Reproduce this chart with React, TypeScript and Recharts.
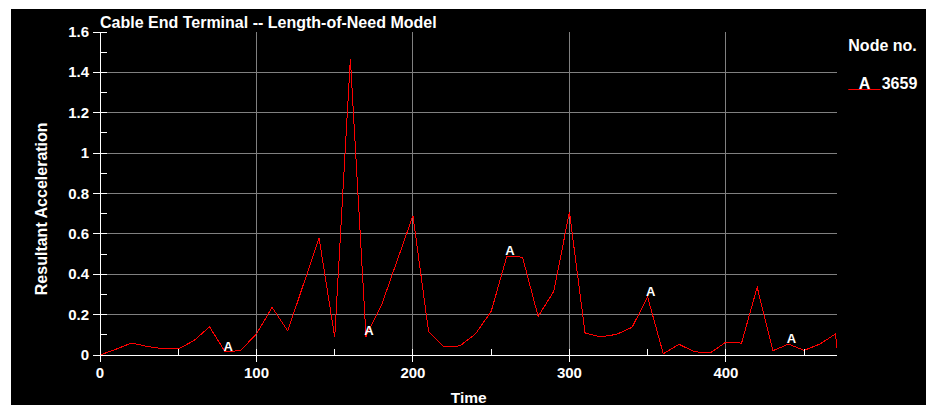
import React from 'react';
import { LineChart, Line, XAxis, YAxis, CartesianGrid } from 'recharts';

const times = [0, 10, 20, 30, 40, 50, 60, 70, 80, 90, 100, 110, 120, 130, 140, 150, 160, 170, 180, 190, 200, 210, 220, 230, 240, 250, 260, 270, 280, 290, 300, 310, 320, 330, 340, 350, 360, 370, 380, 390, 400, 410, 420, 430, 440, 450, 460, 470, 471];
const accel = [0, 0.028, 0.059, 0.043, 0.031, 0.03, 0.071, 0.14, 0.015, 0.023, 0.105, 0.236, 0.119, 0.35, 0.579, 0.089, 1.467, 0.092, 0.249, 0.47, 0.69, 0.115, 0.04, 0.045, 0.105, 0.216, 0.488, 0.485, 0.191, 0.315, 0.708, 0.109, 0.09, 0.102, 0.137, 0.287, 0.006, 0.053, 0.016, 0.01, 0.064, 0.059, 0.336, 0.021, 0.054, 0.023, 0.054, 0.104, 0.035];
const markerTimes = [80, 170, 260, 350, 440];
const xTicks = [0, 50, 100, 150, 200, 250, 300, 350, 400, 450];
const xMajor = [100, 200, 300, 400];
const yTicks = [0, 0.1, 0.2, 0.3, 0.4, 0.5, 0.6, 0.7, 0.8, 0.9, 1, 1.1, 1.2, 1.3, 1.4, 1.5, 1.6];
const yGrid = [0.2, 0.4, 0.6, 0.8, 1, 1.2, 1.4];
const chartTitle = 'Cable End Terminal -- Length-of-Need Model';
const xTitle = 'Time';
const yTitle = 'Resultant Acceleration';
const legendTitle = 'Node no.';
const seriesMarker = 'A';
const seriesName = '3659';

const data = times.map((t, i) => ({ time: t, acc: accel[i] }));

const FONT = '"Liberation Sans", Arial, sans-serif';
const WHITE = '#ffffff';

const BottomTick = (props: any) => {
  const { x, y, payload } = props;
  const v = payload.value;
  const major = v % 100 === 0;
  return (
    <g>
      <line x1={x} x2={x} y1={y - 6} y2={major ? y + 7 : y} stroke={WHITE} />
      {major && (
        <text x={x} y={y + 23} textAnchor="middle" fill={WHITE} fontSize={15} fontWeight="bold" fontFamily={FONT}>
          {v}
        </text>
      )}
    </g>
  );
};

const LeftTick = (props: any) => {
  const { x, y, payload } = props;
  const v = payload.value;
  const major = Math.round(v * 10) % 2 === 0;
  return (
    <g>
      <line x1={major ? x - 7 : x} x2={x + 7} y1={y} y2={y} stroke={WHITE} />
      {major && (
        <text x={x - 11} y={y + 5} textAnchor="end" fill={WHITE} fontSize={15} fontWeight="bold" fontFamily={FONT}>
          {String(v)}
        </text>
      )}
    </g>
  );
};

const TopTick = (props: any) => {
  const { x, y } = props;
  return <line x1={x} x2={x} y1={y} y2={y + 6} stroke={WHITE} />;
};

const RightTick = (props: any) => {
  const { x, y } = props;
  return <line x1={x - 6} x2={x} y1={y} y2={y} stroke={WHITE} />;
};

const renderMarker = (props: any) => {
  const { cx, cy, payload, index } = props;
  if (!payload || !markerTimes.includes(payload.time)) return <g key={`m${index}`} />;
  return (
    <text key={`m${index}`} x={cx + 3} y={cy - 1} textAnchor="middle" fill={WHITE} fontSize={13} fontWeight="bold" fontFamily={FONT}>
      {seriesMarker}
    </text>
  );
};

export default function App() {
  return (
    <div style={{ position: 'absolute', left: 11, top: 9, width: 915, height: 396, background: '#000', overflow: 'hidden' }}>
      <style>{`.recharts-surface line, .recharts-surface .recharts-line-curve { shape-rendering: crispEdges; }`}</style>
      <LineChart width={915} height={396} data={data} margin={{ top: 23, right: 89, bottom: 20, left: 0 }}>
        <CartesianGrid
          xAxisId="b"
          yAxisId="l"
          stroke="#808080"
          horizontalValues={yGrid}
          verticalValues={xMajor}
          syncWithTicks={false}
        />
        <XAxis
          xAxisId="b"
          dataKey="time"
          type="number"
          domain={[0, 471]}
          ticks={xTicks}
          interval={0}
          tickSize={0}
          tickMargin={0}
          tickLine={false}
          tick={<BottomTick />}
          height={30}
          axisLine={{ stroke: WHITE }}
          allowDataOverflow
        />
        <XAxis
          xAxisId="t"
          orientation="top"
          dataKey="time"
          type="number"
          domain={[0, 471]}
          ticks={xMajor}
          interval={0}
          tickSize={0}
          tickMargin={0}
          tickLine={false}
          tick={<TopTick />}
          height={0}
          axisLine={{ stroke: WHITE }}
          allowDataOverflow
        />
        <YAxis
          yAxisId="l"
          type="number"
          domain={[0, 1.6]}
          ticks={yTicks}
          interval={0}
          tickSize={0}
          tickMargin={0}
          tickLine={false}
          tick={<LeftTick />}
          width={89}
          axisLine={{ stroke: WHITE }}
          allowDataOverflow
        />
        <YAxis
          yAxisId="r"
          orientation="right"
          type="number"
          domain={[0, 1.6]}
          ticks={yGrid}
          interval={0}
          tickSize={0}
          tickMargin={0}
          tickLine={false}
          tick={<RightTick />}
          width={0}
          axisLine={{ stroke: WHITE }}
          allowDataOverflow
        />
        <Line
          xAxisId="t"
          yAxisId="r"
          type="linear"
          dataKey="acc"
          stroke="none"
          dot={false}
          activeDot={false}
          legendType="none"
          isAnimationActive={false}
        />
        <Line
          xAxisId="b"
          yAxisId="l"
          type="linear"
          dataKey="acc"
          stroke="#ff0000"
          strokeWidth={1}
          dot={renderMarker}
          activeDot={false}
          isAnimationActive={false}
        />
      </LineChart>
      <svg width={915} height={396} style={{ position: 'absolute', left: 0, top: 0, pointerEvents: 'none' }}>
        <text x={89} y={19.3} fill={WHITE} fontSize={16} fontWeight="bold" fontFamily={FONT}>
          {chartTitle}
        </text>
        <text x={457.8} y={394.3} textAnchor="middle" fill={WHITE} fontSize={15.5} fontWeight="bold" fontFamily={FONT}>
          {xTitle}
        </text>
        <text
          x={36}
          y={199.8}
          textAnchor="middle"
          fill={WHITE}
          fontSize={16}
          fontWeight="bold"
          fontFamily={FONT}
          transform="rotate(-90, 36, 199.8)"
        >
          {yTitle}
        </text>
        <text x={837.3} y={41.7} fill={WHITE} fontSize={16} fontWeight="bold" fontFamily={FONT}>
          {legendTitle}
        </text>
        <line x1={837.3} x2={869.7} y1={80.5} y2={80.5} stroke="#ff0000" />
        <text x={853.5} y={80} textAnchor="middle" fill={WHITE} fontSize={16} fontWeight="bold" fontFamily={FONT}>
          {seriesMarker}
        </text>
        <text x={870.7} y={80} fill={WHITE} fontSize={16} fontWeight="bold" fontFamily={FONT}>
          {seriesName}
        </text>
      </svg>
    </div>
  );
}
